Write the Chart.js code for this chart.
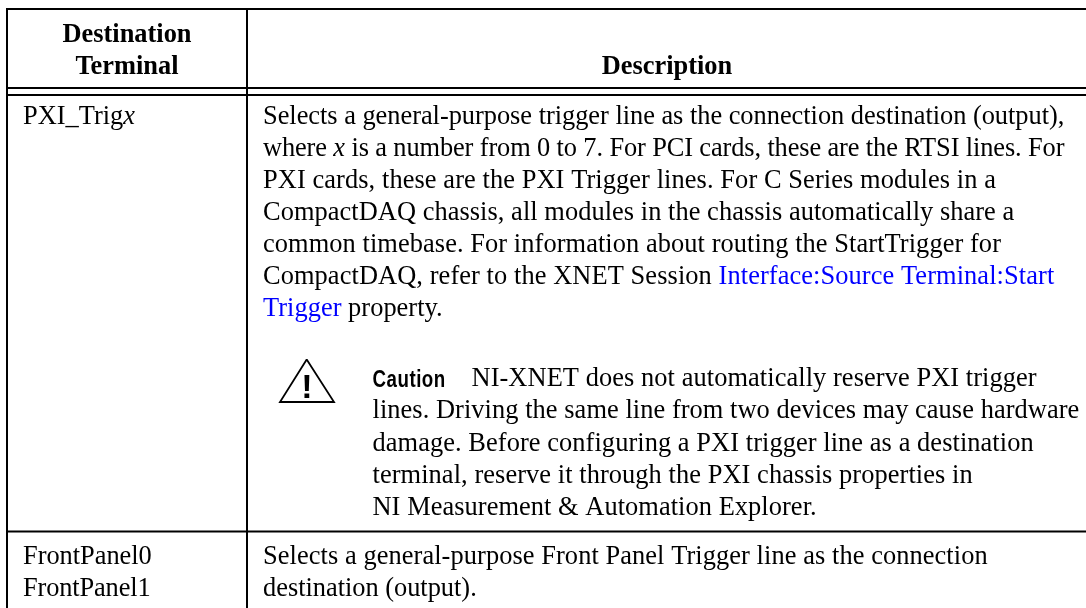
<!DOCTYPE html>
<html><head><meta charset="utf-8">
<script src="https://cdn.jsdelivr.net/npm/chart.js@4"></script>
<style>html,body{margin:0;padding:0;background:#fff}canvas{display:block}</style>
</head><body><canvas id="c" width="1086" height="608"></canvas>
<script>
// Table content. Runs: [text, style]; style: r roman, i italic, l link
const headerColumn1 = ["Destination", "Terminal"];
const headerColumn2 = ["Description"];
const row1Terminal = [[["PXI_Trig","r"],["x","i"]]];
const row1Description = [
 [["Selects a general-purpose trigger line as the connection destination (output),","r"]],
 [["where ","r"],["x","i"],[" is a number from 0 to 7. For PCI cards, these are the RTSI lines. For","r"]],
 [["PXI cards, these are the PXI Trigger lines. For C Series modules in a","r"]],
 [["CompactDAQ chassis, all modules in the chassis automatically share a","r"]],
 [["common timebase. For information about routing the StartTrigger for","r"]],
 [["CompactDAQ, refer to the XNET Session ","r"],["Interface:Source Terminal:Start","l"]],
 [["Trigger","l"],[" property.","r"]]
];
const cautionLabel = "Caution";
const cautionLines = [
 [["NI-XNET does not automatically reserve PXI trigger","r"]],
 [["lines. Driving the same line from two devices may cause hardware","r"]],
 [["damage. Before configuring a PXI trigger line as a destination","r"]],
 [["terminal, reserve it through the PXI chassis properties in","r"]],
 [["NI Measurement & Automation Explorer.","r"]]
];
const row2Terminal = [[["FrontPanel0","r"]],[["FrontPanel1","r"]]];
const row2Description = [
 [["Selects a general-purpose Front Panel Trigger line as the connection","r"]],
 [["destination (output).","r"]]
];
// Geometry in axis units
const columnRules = [7, 247];
const rowRules = [9, 88, 95, 531.5];
const tableRight = 1086, tableBottom = 608;
const iconOutline = [[306.7,359.5],[334,402],[280,402],[306.7,359.5]];
const row1Ends = [1064.3,1064.3,996,1014.3,1001,1054.3,442.7];
const cautionEnds = [1036.7,1079.3,1033.7,972.7,816.7];
const row2Ends = [987.7,476.7];
const terminal2Ends = [151.7,150.5];

const SERIF = '"Liberation Serif"';
const BODY = 26.4;
const fonts = {
  r: `${BODY}px ${SERIF}`, i: `italic ${BODY}px ${SERIF}`, l: `${BODY}px ${SERIF}`,
  b: `bold ${BODY}px ${SERIF}`, c: `bold 24px "Liberation Sans"`
};
const rules = [
  ...columnRules.map(x => [{x, y: rowRules[0]-1}, {x, y: tableBottom}]),
  ...rowRules.map(y => [{x: columnRules[0]-1, y}, {x: tableRight, y}])
];
const datasets = rules.map(d => ({data:d, showLine:true, pointRadius:0, borderColor:'#000', borderWidth:2, borderCapStyle:'butt'}));
datasets.push({data: iconOutline.map(([x,y])=>({x,y})), showLine:true, pointRadius:0, borderColor:'#000', borderWidth:1.8, borderJoinStyle:'miter'});

function drawRuns(ctx, runs, x, y, endX){
  let natural = 0, chars = 0;
  ctx.letterSpacing = '0px';
  for (const [t,s] of runs){ ctx.font = fonts[s]; natural += ctx.measureText(t).width; chars += t.length; }
  const extra = endX === undefined ? 0 : (endX - x - natural) / chars;
  ctx.letterSpacing = extra.toFixed(3) + 'px';
  for (const [t,s] of runs){
    ctx.font = fonts[s];
    ctx.fillStyle = s==='l' ? '#0000ff' : '#000';
    ctx.fillText(t, x, y);
    x += ctx.measureText(t).width;
  }
  ctx.letterSpacing = '0px';
}
const tableText = {
  id:'tableText',
  afterDatasetsDraw(chart){
    const {ctx, scales:{x:sx, y:sy}} = chart;
    const X = sx.getPixelForValue.bind(sx), Y = sy.getPixelForValue.bind(sy);
    ctx.save();
    ctx.textBaseline='alphabetic'; ctx.textAlign='left';
    const center = (t,cx,y)=>{ctx.font=fonts.b;ctx.fillStyle='#000';ctx.textAlign='center';ctx.fillText(t,X(cx),Y(y));ctx.textAlign='left';};
    center(headerColumn1[0],127,42);
    center(headerColumn1[1],127,74);
    center(headerColumn2[0],667,74);
    row1Terminal.forEach((r,i)=>drawRuns(ctx,r,X(23),Y(124.3+32*i)));
    row1Description.forEach((r,i)=>drawRuns(ctx,r,X(263),Y(124.3+32*i),X(row1Ends[i])));
    ctx.save();
    ctx.translate(X(372.5),Y(386.5)); ctx.scale(0.78,1);
    ctx.font=fonts.c; ctx.fillStyle='#000'; ctx.letterSpacing='0.65px';
    ctx.fillText(cautionLabel,0,0);
    ctx.restore();
    cautionLines.forEach((r,i)=>drawRuns(ctx,r,X(i===0?471.5:372.5),Y(386.3+32.1*i),X(cautionEnds[i])));
    row2Terminal.forEach((r,i)=>drawRuns(ctx,r,X(23),Y(564+32*i),X(terminal2Ends[i])));
    row2Description.forEach((r,i)=>drawRuns(ctx,r,X(263),Y(564+32*i),X(row2Ends[i])));
    ctx.font='bold 34px "Liberation Sans"'; ctx.textAlign='center'; ctx.fillStyle='#000';
    ctx.fillText('!',X(307),Y(397.5));
    ctx.restore();
  }
};
new Chart(document.getElementById('c'),{
  type:'scatter',
  data:{datasets},
  options:{
    responsive:false, animation:false, events:[],
    layout:{padding:0},
    scales:{
      x:{type:'linear',display:false,min:0,max:tableRight},
      y:{type:'linear',display:false,min:0,max:tableBottom,reverse:true}
    },
    plugins:{legend:{display:false},title:{display:false},tooltip:{enabled:false}}
  },
  plugins:[tableText]
});
</script></body></html>
